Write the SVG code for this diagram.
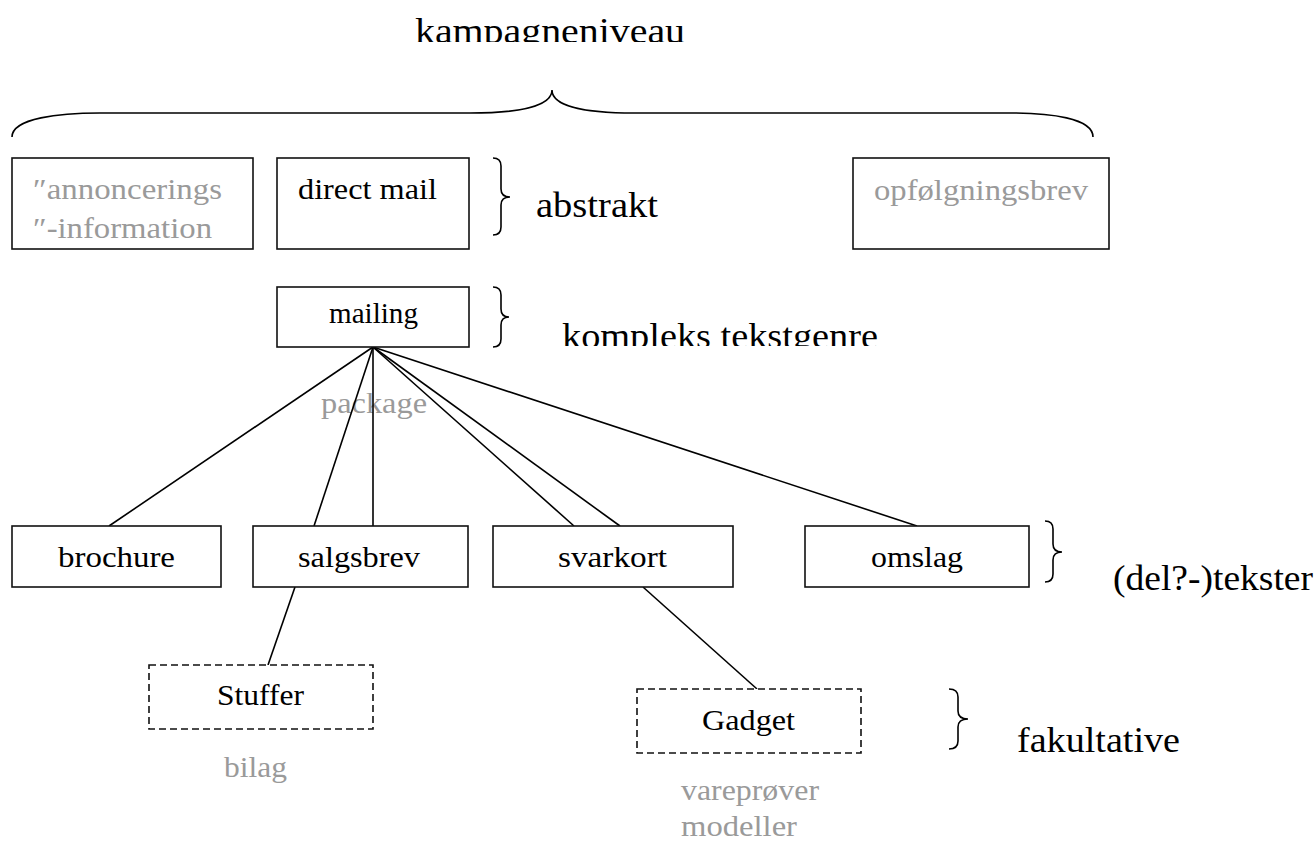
<svg xmlns="http://www.w3.org/2000/svg" width="1316" height="843" viewBox="0 0 1316 843">
<style>
  .box{fill:#fff;stroke:#111;stroke-width:1.6}
  .dash{fill:#fff;stroke:#111;stroke-width:1.6;stroke-dasharray:7 4}
  .ln{stroke:#000;stroke-width:1.6;fill:none}
  .br{stroke:#000;stroke-width:1.6;fill:none}
  .t{font-family:"Liberation Serif","Times New Roman",serif;font-size:30px;fill:#000}
  .g{font-family:"Liberation Serif","Times New Roman",serif;font-size:30px;fill:#9a9a9a}
  .s{font-family:"Liberation Serif","Times New Roman",serif;font-size:36px;fill:#000}
</style>
<defs>
  <clipPath id="clipTop"><rect x="0" y="0" width="1316" height="42"/></clipPath>
  <clipPath id="clipKomp"><rect x="540" y="300" width="400" height="46"/></clipPath>
</defs>
<rect width="1316" height="843" fill="#fff"/>

<g id="labels">
  <text class="s" x="415" y="43" textLength="270" lengthAdjust="spacingAndGlyphs" clip-path="url(#clipTop)">kampagneniveau</text>
  <path class="br" d="M12,137 C12,118 60,113 100,113 L470,113 C520,113 552,106 552,90 C552,106 584,113 634,113 L1010,113 C1050,113 1093,118 1093,137"/>
  <text class="s" x="536" y="217" textLength="122" lengthAdjust="spacingAndGlyphs">abstrakt</text>
  <path class="br" d="M493,158 Q501,158 501,166 L501,189 Q501,197 510,197 Q501,197 501,205 L501,227 Q501,235 493,235"/>
  <text class="s" x="562" y="348" textLength="316" lengthAdjust="spacingAndGlyphs" clip-path="url(#clipKomp)">kompleks tekstgenre</text>
  <path class="br" d="M493,287 Q501,287 501,295 L501,309 Q501,317 509,317 Q501,317 501,325 L501,339 Q501,347 493,347"/>
  <text class="g" x="321" y="413" textLength="106" lengthAdjust="spacingAndGlyphs">package</text>
  <text class="s" x="1113" y="590" textLength="200" lengthAdjust="spacingAndGlyphs">(del?-)tekster</text>
  <path class="br" d="M1045,521 Q1053,521 1053,529 L1053,544 Q1053,552 1062,552 Q1053,552 1053,560 L1053,574 Q1053,582 1045,582"/>
  <text class="s" x="1017" y="752" textLength="163" lengthAdjust="spacingAndGlyphs">fakultative</text>
  <path class="br" d="M949,689 Q958,689 958,697 L958,711 Q958,719 968,719 Q958,719 958,727 L958,741 Q958,749 949,749"/>
  <text class="g" x="224" y="777" textLength="63" lengthAdjust="spacingAndGlyphs">bilag</text>
  <text class="g" x="681" y="800" textLength="138" lengthAdjust="spacingAndGlyphs">vareprøver</text>
  <text class="g" x="681" y="836" textLength="116" lengthAdjust="spacingAndGlyphs">modeller</text>
</g>

<g id="connectors">
  <line class="ln" x1="373" y1="347" x2="109" y2="526"/>
  <line class="ln" x1="373" y1="347" x2="314" y2="526"/>
  <line class="ln" x1="373" y1="347" x2="373" y2="526"/>
  <line class="ln" x1="373" y1="347" x2="574" y2="526"/>
  <line class="ln" x1="373" y1="347" x2="620" y2="526"/>
  <line class="ln" x1="373" y1="347" x2="917" y2="526"/>
  <line class="ln" x1="295" y1="587" x2="268" y2="665"/>
  <line class="ln" x1="643" y1="587" x2="757" y2="689"/>
</g>

<g id="node-annoncering">
  <rect class="box" x="12" y="158" width="241" height="91"/>
  <text class="g" x="33" y="199" textLength="189" lengthAdjust="spacingAndGlyphs">″annoncerings</text>
  <text class="g" x="33" y="238" textLength="179" lengthAdjust="spacingAndGlyphs">″-information</text>
</g>
<g id="node-directmail">
  <rect class="box" x="277" y="158" width="192" height="91"/>
  <text class="t" x="298" y="199" textLength="139" lengthAdjust="spacingAndGlyphs">direct mail</text>
</g>
<g id="node-opfoelgning">
  <rect class="box" x="853" y="158" width="256" height="91"/>
  <text class="g" x="874" y="200" textLength="214" lengthAdjust="spacingAndGlyphs">opfølgningsbrev</text>
</g>
<g id="node-mailing">
  <rect class="box" x="277" y="287" width="192" height="60"/>
  <text class="t" x="329" y="323" textLength="89" lengthAdjust="spacingAndGlyphs">mailing</text>
</g>
<g id="node-brochure">
  <rect class="box" x="12" y="526" width="209" height="61"/>
  <text class="t" x="58" y="567" textLength="117" lengthAdjust="spacingAndGlyphs">brochure</text>
</g>
<g id="node-salgsbrev">
  <rect class="box" x="253" y="526" width="215" height="61"/>
  <text class="t" x="298" y="567" textLength="122" lengthAdjust="spacingAndGlyphs">salgsbrev</text>
</g>
<g id="node-svarkort">
  <rect class="box" x="493" y="526" width="240" height="61"/>
  <text class="t" x="558" y="567" textLength="109" lengthAdjust="spacingAndGlyphs">svarkort</text>
</g>
<g id="node-omslag">
  <rect class="box" x="805" y="526" width="224" height="61"/>
  <text class="t" x="871" y="567" textLength="92" lengthAdjust="spacingAndGlyphs">omslag</text>
</g>
<g id="node-stuffer">
  <rect class="dash" x="149" y="665" width="224" height="64"/>
  <text class="t" x="217" y="705" textLength="87" lengthAdjust="spacingAndGlyphs">Stuffer</text>
</g>
<g id="node-gadget">
  <rect class="dash" x="637" y="689" width="224" height="64"/>
  <text class="t" x="702" y="730" textLength="93" lengthAdjust="spacingAndGlyphs">Gadget</text>
</g>
</svg>
